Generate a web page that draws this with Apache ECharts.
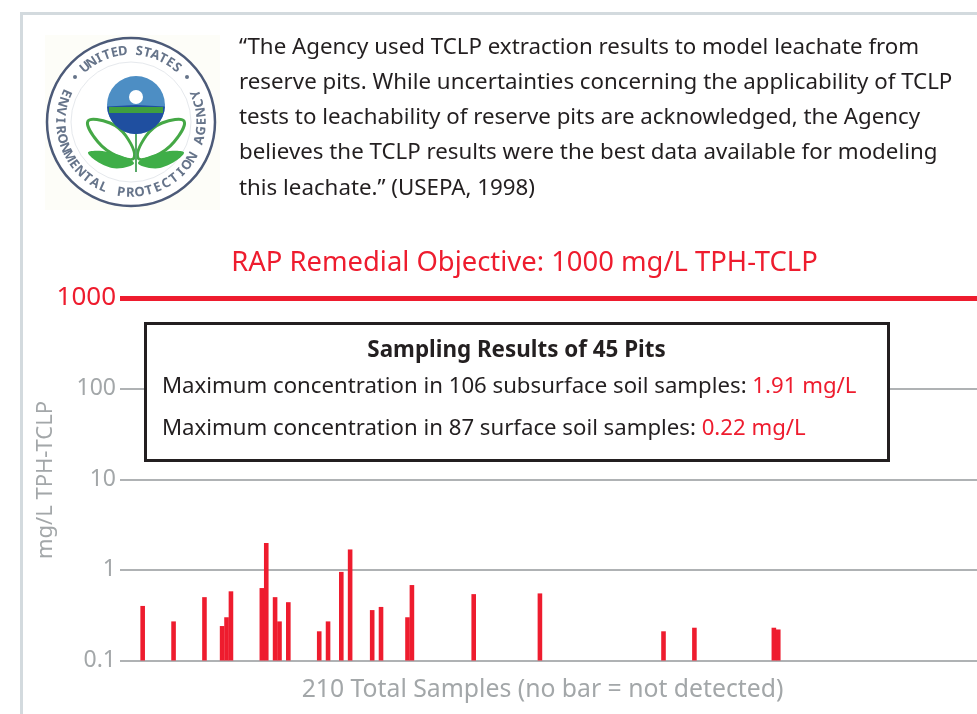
<!DOCTYPE html>
<html>
<head>
<meta charset="utf-8">
<title>RAP Remedial Objective</title>
<script src="https://cdn.jsdelivr.net/npm/echarts@6/dist/echarts.min.js"></script>
<style>
  html, body { margin: 0; padding: 0; background: #fff; }
  #chart { width: 977px; height: 714px; }
</style>
</head>
<body>
<div id="chart"></div>
<script>
// sample numbers that have a detection, everything else = no bar
const sampleNumbers = [5, 12, 19, 23, 24, 25, 32, 33, 35, 36, 38, 45, 47, 50, 52, 57, 59, 65, 66, 80, 95, 123, 130, 148, 149];
const sampleValues = [0.40, 0.27, 0.50, 0.24, 0.30, 0.58, 0.63, 1.98, 0.50, 0.27, 0.44, 0.21, 0.27, 0.95, 1.68, 0.36, 0.39, 0.30, 0.68, 0.54, 0.55, 0.21, 0.23, 0.23, 0.22];
const totalSamples = 210;
const axisFloor = 0.1;
const objective = 1000;
const quoteLines = [
  '“The Agency used TCLP extraction results to model leachate from',
  'reserve pits. While uncertainties concerning the applicability of TCLP',
  'tests to leachability of reserve pits are acknowledged, the Agency',
  'believes the TCLP results were the best data available for modeling',
  'this leachate.” (USEPA, 1998)'
];

const RED = '#ee1c2e';
const GRAY = '#a3a7a9';
const FONT = '"Noto Sans", sans-serif';

const categories = [];
for (let i = 0; i < totalSamples; i++) {
  categories.push(String(i));
}
const barData = sampleNumbers.map((n, i) => [n, sampleValues[i]]);

// bar series on a log axis grows from 1, so the bars hang off the axis floor here instead
const renderBar = (params, api) => {
  const top = api.coord([api.value(0), api.value(1)]);
  const bottom = api.coord([api.value(0), axisFloor]);
  return {
    type: 'rect',
    shape: { x: top[0] - 1.7, y: top[1], width: 4.6, height: bottom[1] - top[1] },
    style: { fill: RED }
  };
};

// letters of the seal, placed one by one around the ring
const sealX = 131, sealY = 122, sealR = 71;
const arcText = (str, from, to, flip) => {
  return str.split('').map((ch, i) => {
    const deg = from + (to - from) * i / (str.length - 1);
    const rad = deg * Math.PI / 180;
    return {
      type: 'text',
      x: sealX + sealR * Math.sin(rad),
      y: sealY - sealR * Math.cos(rad),
      rotation: -(flip ? rad - Math.PI : rad),
      z: 12,
      style: { text: ch, fontSize: 13, fontWeight: 'bold', fontFamily: FONT, fill: '#66748a', textAlign: 'center', textVerticalAlign: 'middle' }
    };
  });
};

const logo = [
  { type: 'rect', z: 10, shape: { x: 45, y: 35, width: 175, height: 175 }, style: { fill: '#fdfdf8' } },
  { type: 'circle', z: 11, shape: { cx: sealX, cy: sealY, r: 84 }, style: { fill: '#fff', stroke: '#4c5a78', lineWidth: 2.5 } },
  { type: 'circle', z: 11, shape: { cx: sealX, cy: sealY, r: 60 }, style: { fill: '#fff', stroke: '#e6e9ed', lineWidth: 1 } },
  ...arcText('UNITED STATES', -40, 40, false),
  ...arcText('ENVIRONMENTAL PROTECTION AGENCY', 294, 67, true),
  { type: 'circle', z: 12, shape: { cx: sealX - 56, cy: sealY - 45, r: 2 }, style: { fill: '#66748a' } },
  { type: 'circle', z: 12, shape: { cx: sealX + 56, cy: sealY - 45, r: 2 }, style: { fill: '#66748a' } },
  // globe
  { type: 'circle', z: 12, shape: { cx: 136, cy: 105, r: 29 }, style: { fill: '#4d8ec4' } },
  { type: 'sector', z: 13, shape: { cx: 136, cy: 105, r: 29, startAngle: 0.05, endAngle: Math.PI - 0.05 }, style: { fill: '#1f4fa0' } },
  { type: 'rect', z: 13, shape: { x: 109, y: 107, width: 54, height: 6 }, style: { fill: '#3f9f3f' } },
  { type: 'circle', z: 14, shape: { cx: 136, cy: 97, r: 7 }, style: { fill: '#fff' } },
  // leaves
  { type: 'polygon', z: 12, shape: { points: [[88, 121], [110, 123], [126, 136], [134, 158], [117, 156], [98, 142]], smooth: 0.4 }, style: { fill: '#fff', stroke: '#45a846', lineWidth: 3 } },
  { type: 'polygon', z: 12, shape: { points: [[184, 121], [162, 123], [146, 136], [138, 158], [155, 156], [174, 142]], smooth: 0.4 }, style: { fill: '#fff', stroke: '#45a846', lineWidth: 3 } },
  { type: 'polygon', z: 12, shape: { points: [[88, 153], [108, 152], [134, 163], [112, 168]], smooth: 0.4 }, style: { fill: '#3fae48' } },
  { type: 'polygon', z: 12, shape: { points: [[184, 153], [164, 152], [138, 163], [160, 168]], smooth: 0.4 }, style: { fill: '#3fae48' } },
  { type: 'line', z: 12, shape: { x1: 136, y1: 134, x2: 136, y2: 172 }, style: { stroke: '#58a868', lineWidth: 2 } }
];

const quote = quoteLines.map((line, i) => ({
  type: 'text', x: 239, y: 47.5 + i * 35.2, z: 20,
  style: { text: line, fontSize: 22.3, fontFamily: FONT, fill: '#231f20', textVerticalAlign: 'middle' }
}));

const frame = [
  { type: 'rect', z: 5, shape: { x: 20, y: 12, width: 957, height: 3 }, style: { fill: '#d3dade' } },
  { type: 'rect', z: 5, shape: { x: 20, y: 12, width: 3, height: 702 }, style: { fill: '#d3dade' } }
];

const resultBox = [
  { type: 'rect', z: 100, shape: { x: 145.5, y: 323.5, width: 743, height: 137 }, style: { fill: '#fff', stroke: '#231f20', lineWidth: 3 } },
  {
    type: 'text', x: 516.5, y: 351, z: 101,
    style: { text: 'Sampling Results of 45 Pits', fontSize: 22.4, fontWeight: 'bold', fontFamily: FONT, fill: '#231f20', textAlign: 'center', textVerticalAlign: 'middle' }
  },
  {
    type: 'text', x: 162, y: 387, z: 101,
    style: {
      text: '{k|Maximum concentration in 106 subsurface soil samples: }{v|1.91 mg/L}',
      textVerticalAlign: 'middle',
      rich: {
        k: { fontSize: 22.2, fontFamily: FONT, fill: '#231f20', color: '#231f20' },
        v: { fontSize: 22.2, fontFamily: FONT, fill: RED, color: RED }
      }
    }
  },
  {
    type: 'text', x: 162, y: 429, z: 101,
    style: {
      text: '{k|Maximum concentration in 87 surface soil samples: }{v|0.22 mg/L}',
      textVerticalAlign: 'middle',
      rich: {
        k: { fontSize: 22.2, fontFamily: FONT, fill: '#231f20', color: '#231f20' },
        v: { fontSize: 22.2, fontFamily: FONT, fill: RED, color: RED }
      }
    }
  }
];

const xCaption = {
  type: 'text', x: 542.5, y: 690, z: 20,
  style: { text: '210 Total Samples (no bar = not detected)', fontSize: 24.75, fontFamily: FONT, fill: GRAY, textAlign: 'center', textVerticalAlign: 'middle' }
};

// axis name would get pushed clear of the wide 1000 label, so it sits here
const yCaption = {
  type: 'text', x: 46, y: 480, z: 20, rotation: Math.PI / 2,
  style: { text: 'mg/L TPH-TCLP', fontSize: 22, fontFamily: FONT, fill: GRAY, textAlign: 'center', textVerticalAlign: 'middle' }
};

const chart = echarts.init(document.getElementById('chart'), null, { renderer: 'canvas' });
chart.setOption({
  animation: false,
  backgroundColor: '#fff',
  title: {
    text: 'RAP Remedial Objective: ' + objective + ' mg/L TPH-TCLP',
    left: 519.5,
    top: 245,
    textAlign: 'center',
    textStyle: { color: RED, fontSize: 27.4, fontWeight: 'normal', fontFamily: FONT }
  },
  grid: { left: 120, top: 298, width: 922.5, height: 362.5, outerBoundsMode: 'none' },
  xAxis: {
    type: 'category',
    data: categories,
    boundaryGap: false,
    axisLine: { show: false },
    axisTick: { show: false },
    axisLabel: { show: false },
    splitLine: { show: false }
  },
  yAxis: {
    type: 'log',
    logBase: 10,
    min: axisFloor,
    max: objective,
    axisLine: { show: false },
    axisTick: { show: false },
    minorTick: { show: false },
    axisLabel: {
      margin: 4,
      fontSize: 23,
      fontFamily: FONT,
      color: GRAY,
      formatter: (value) => (Number(value) === objective ? '{top|' + value + '}' : String(value)),
      rich: { top: { color: RED, fontSize: 26, fontFamily: FONT } }
    },
    splitLine: { show: true, lineStyle: { color: '#94989b', width: 1.5 } }
  },
  series: [{
    type: 'custom',
    data: barData,
    encode: { x: 0, y: 1 },
    renderItem: renderBar,
    clip: false,
    markLine: {
      silent: true,
      symbol: 'none',
      label: { show: false },
      lineStyle: { color: RED, width: 5, type: 'solid' },
      data: [{ yAxis: objective }]
    }
  }],
  graphic: { elements: [...frame, ...logo, ...quote, ...resultBox, xCaption, yCaption] }
});
</script>
</body>
</html>
